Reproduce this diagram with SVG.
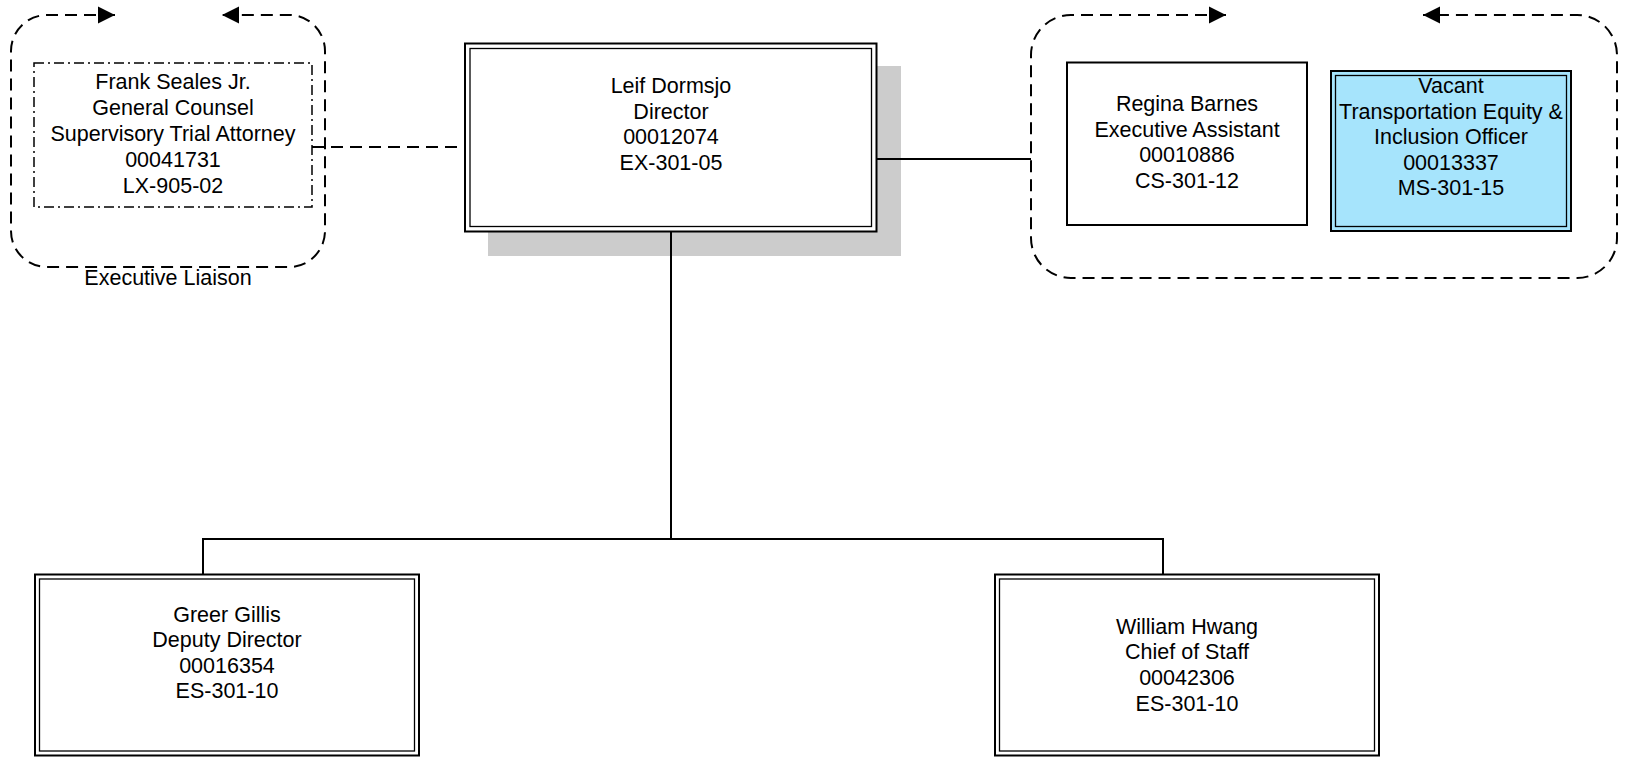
<svg xmlns="http://www.w3.org/2000/svg" width="1630" height="757" viewBox="0 0 1630 757">
<style>
text{font-family:"Liberation Sans",Arial,sans-serif;font-size:21.5px;fill:#000;text-anchor:middle}
.ln{fill:none;stroke:#000;stroke-width:2}
.dash{fill:none;stroke:#000;stroke-width:2;stroke-dasharray:12 7}
.box{fill:#fff;stroke:#000;stroke-width:2}
.inner{fill:none;stroke:#000;stroke-width:1.3}
</style>
<defs>
<marker id="arr" markerUnits="userSpaceOnUse" markerWidth="19" markerHeight="19" refX="17" refY="9" orient="auto-start-reverse" viewBox="0 0 19 19">
<path d="M0,0.5 L17,9 L0,17.5 z" fill="#000"/>
</marker>
</defs>
<rect width="1630" height="757" fill="#fff"/>

<g id="group-exec-liaison">
<path class="dash" marker-start="url(#arr)" marker-end="url(#arr)" d="M115,15 L47,15 A36,36 0 0 0 11,51 L11,231 A36,36 0 0 0 47,267 L289,267 A36,36 0 0 0 325,231 L325,51 A36,36 0 0 0 289,15 L222,15"/>
<text x="168" y="285">Executive Liaison</text>
</g>

<g id="group-staff">
<path class="dash" marker-start="url(#arr)" marker-end="url(#arr)" d="M1226,15 L1071,15 A40,40 0 0 0 1031,55 L1031,238 A40,40 0 0 0 1071,278 L1577,278 A40,40 0 0 0 1617,238 L1617,55 A40,40 0 0 0 1577,15 L1423,15"/>
</g>

<g id="node-frank">
<rect x="34" y="63" width="278" height="144" fill="#fff" stroke="#000" stroke-width="1.5" stroke-dasharray="10 4 2 4"/>
<text x="173" y="89">Frank Seales Jr.</text>
<text x="173" y="115">General Counsel</text>
<text x="173" y="141">Supervisory Trial Attorney</text>
<text x="173" y="167">00041731</text>
<text x="173" y="193">LX-905-02</text>
</g>

<g id="node-director">
<rect x="488" y="66" width="413" height="190" fill="#cccccc"/>
<rect class="box" x="465" y="43.5" width="411.5" height="188"/>
<rect class="inner" x="470" y="48.5" width="401.5" height="178"/>
<text x="671" y="93">Leif Dormsjo</text>
<text x="671" y="118.5">Director</text>
<text x="671" y="144">00012074</text>
<text x="671" y="169.5">EX-301-05</text>
</g>

<g id="node-regina">
<rect class="box" x="1067" y="62.5" width="240" height="162.5"/>
<text x="1187" y="111">Regina Barnes</text>
<text x="1187" y="136.7">Executive Assistant</text>
<text x="1187" y="162.3">00010886</text>
<text x="1187" y="188">CS-301-12</text>
</g>

<g id="node-vacant">
<rect x="1331" y="71" width="240" height="160" fill="#a6e4fc" stroke="#000" stroke-width="2"/>
<rect class="inner" x="1335.5" y="75.5" width="231" height="151"/>
<text x="1451" y="93">Vacant</text>
<text x="1451" y="118.5">Transportation Equity &amp;</text>
<text x="1451" y="144">Inclusion Officer</text>
<text x="1451" y="169.5">00013337</text>
<text x="1451" y="195">MS-301-15</text>
</g>

<g id="node-greer">
<rect class="box" x="35" y="574.5" width="384" height="181"/>
<rect class="inner" x="39.5" y="579" width="375" height="172"/>
<text x="227" y="621.7">Greer Gillis</text>
<text x="227" y="647">Deputy Director</text>
<text x="227" y="672.7">00016354</text>
<text x="227" y="698.3">ES-301-10</text>
</g>

<g id="node-william">
<rect class="box" x="995" y="574.5" width="384" height="181"/>
<rect class="inner" x="999.5" y="579" width="375" height="172"/>
<text x="1187" y="633.5">William Hwang</text>
<text x="1187" y="659">Chief of Staff</text>
<text x="1187" y="685">00042306</text>
<text x="1187" y="710.5">ES-301-10</text>
</g>

<g id="connectors">
<path class="dash" d="M312,147 L465,147"/>
<path class="ln" d="M876.5,159 L1031,159"/>
<path class="ln" d="M671,231.5 L671,539 M203,574.5 L203,539 L1163,539 L1163,574.5"/>
</g>
</svg>
